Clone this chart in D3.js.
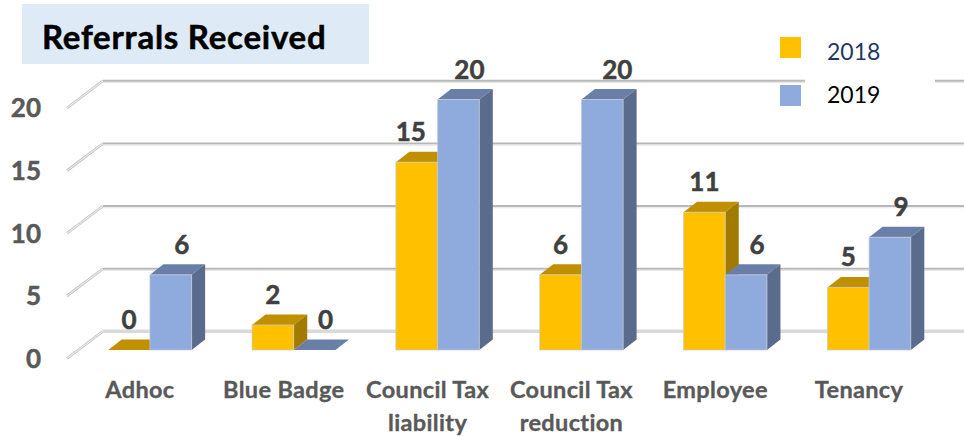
<!DOCTYPE html>
<html>
<head>
<meta charset="utf-8">
<script src="https://cdn.jsdelivr.net/npm/d3@7"></script>
<style>
  html, body { margin: 0; padding: 0; background: #fff; }
  svg { display: block; }
  text { font-family: Lato, "Open Sans", sans-serif; }
</style>
</head>
<body>
<svg id="chart" width="964" height="436"></svg>
<script>
var categories = ["Adhoc", "Blue Badge", "Council Tax liability", "Council Tax reduction", "Employee", "Tenancy"];
var seriesNames = ["2018", "2019"];
var values2018 = [0, 2, 15, 6, 11, 5];
var values2019 = [6, 0, 20, 20, 6, 9];
var yTicks = [0, 5, 10, 15, 20];

var svg = d3.select("#chart");

var x = d3.scaleBand().domain(categories).range([78, 941]).paddingInner(0.42).paddingOuter(0.21);
var xSeries = d3.scaleBand().domain(seriesNames).range([0, x.bandwidth()]);
var y = d3.scaleLinear().domain([0, 20]).range([350, 99.5]);

// 3d offsets of the bars and of the back wall
var barDx = 13.5, barDy = -10.5;
var wallLeft = 67, wallBack = 103, wallRight = 964;

var colors = {
    "2018": { front: "#ffc000", top: "#c09000", side: "#a07b00" },
    "2019": { front: "#8faadc", top: "#6a7fa8", side: "#5b6b8c" }
};

// <--------------- title box --------------->
svg.append("rect")
    .attr("x", 22).attr("y", 4)
    .attr("width", 347).attr("height", 60)
    .attr("fill", "#deebf7");

svg.append("text")
    .attr("x", 42).attr("y", 49)
    .attr("font-size", "33px")
    .attr("font-weight", 700)
    .attr("letter-spacing", "0.75px")
    .attr("stroke", "#000")
    .attr("stroke-width", 0.5)
    .attr("fill", "#000")
    .text("Referrals Received");

// <--------------- walls --------------->
function gridColor(d) { return d === 0 ? "#d9d9d9" : "#b8b8b8"; }

var grid = svg.append("g").selectAll("g")
    .data(yTicks)
    .enter()
    .append("g");

grid.append("path")
    .attr("d", function (d) { return "M" + wallLeft + "," + (y(d) + 8.5) + "L" + wallBack + "," + (y(d) - 18.7); })
    .attr("fill", "none")
    .attr("stroke", "#bdbdbd")
    .attr("stroke-width", 2.6);

grid.append("path")
    .attr("d", function (d) { return "M" + wallLeft + "," + (y(d) + 8.5) + "L" + wallBack + "," + (y(d) - 18.7); })
    .attr("fill", "none")
    .attr("stroke", "#ececec")
    .attr("stroke-width", 1.2);

grid.append("line")
    .attr("x1", wallBack).attr("x2", wallRight)
    .attr("y1", function (d) { return y(d) - 18.7; })
    .attr("y2", function (d) { return y(d) - 18.7; })
    .attr("stroke", gridColor)
    .attr("stroke-width", function (d) { return d === 0 ? 3.5 : 2; });

grid.append("line")
    .attr("x1", wallBack).attr("x2", wallRight)
    .attr("y1", function (d) { return y(d) - 17; })
    .attr("y2", function (d) { return y(d) - 17; })
    .attr("stroke", "#e6e6e6")
    .attr("stroke-width", function (d) { return d === 0 ? 0 : 1.2; });

// <--------------- legend --------------->
svg.append("rect")
    .attr("x", 805).attr("y", 74)
    .attr("width", 130).attr("height", 14)
    .attr("fill", "#fff");

var legend = svg.append("g").selectAll("g")
    .data(seriesNames)
    .enter()
    .append("g");

legend.append("rect")
    .attr("x", 780)
    .attr("y", function (d, i) { return 37 + i * 48; })
    .attr("width", 21).attr("height", 21)
    .attr("fill", function (d) { return colors[d].front; });

legend.append("text")
    .attr("x", 827)
    .attr("y", function (d, i) { return 60 + i * 43; })
    .attr("font-size", "23px")
    .attr("fill", function (d, i) { return i === 0 ? "#1f3864" : "#000"; })
    .text(function (d) { return d; });

// <--------------- bars --------------->
var rows = [];
categories.forEach(function (c, i) {
    rows.push({ category: c, series: "2018", value: values2018[i] });
    rows.push({ category: c, series: "2019", value: values2019[i] });
});

function poly(pts) { return "M" + pts.join("L") + "Z"; }

var bars = svg.append("g").selectAll("g")
    .data(rows)
    .enter()
    .append("g");

function left(d) { return x(d.category) + xSeries(d.series); }
function right(d) { return left(d) + xSeries.bandwidth(); }

// top face
bars.append("path")
    .attr("d", function (d) {
        var t = y(d.value);
        return poly([[left(d), t], [right(d), t], [right(d) + barDx, t + barDy], [left(d) + barDx, t + barDy]]);
    })
    .attr("fill", function (d) { return colors[d.series].top; });

// side face
bars.append("path")
    .attr("d", function (d) {
        var t = y(d.value), b = y(0);
        return poly([[right(d), t], [right(d) + barDx, t + barDy], [right(d) + barDx, b + barDy], [right(d), b]]);
    })
    .attr("fill", function (d) { return colors[d.series].side; });

// front face
bars.append("rect")
    .attr("x", left)
    .attr("y", function (d) { return y(d.value); })
    .attr("width", xSeries.bandwidth())
    .attr("height", function (d) { return y(0) - y(d.value); })
    .attr("fill", function (d) { return colors[d.series].front; })
    .attr("stroke", "#c8ccd4")
    .attr("stroke-opacity", 0.7)
    .attr("stroke-width", function (d) { return d.value === 0 ? 0 : 1; });

// value labels sit a bit off the bar centre in the original
function labelShift(d) {
    if (d.category === "Council Tax liability" && d.series === "2018") return -6;
    if (d.category === "Council Tax reduction" && d.series === "2019") return 15;
    return d.series === "2019" ? 11 : 0;
}

bars.append("text")
    .attr("x", function (d) { return left(d) + xSeries.bandwidth() / 2 + labelShift(d); })
    .attr("y", function (d) { return y(d.value) - 21; })
    .attr("text-anchor", "middle")
    .attr("font-size", "26px")
    .attr("font-weight", 700)
    .attr("stroke", "#404040")
    .attr("stroke-width", 0.5)
    .attr("fill", "#404040")
    .text(function (d) { return d.value; });

// <--------------- axes --------------->
var yAxis = svg.append("g")
    .attr("transform", "translate(41,9)")
    .call(d3.axisLeft(y).tickValues(yTicks).tickSize(0).tickPadding(0));
yAxis.select(".domain").remove();
yAxis.selectAll("text")
    .style("font-family", "Lato, sans-serif")
    .style("font-size", "26px")
    .style("font-weight", 700)
    .attr("stroke", "#595959")
    .attr("stroke-width", 0.5)
    .attr("fill", "#595959");

var xAxis = svg.append("g")
    .attr("transform", "translate(-10,380)")
    .call(d3.axisBottom(x).tickSize(0).tickPadding(0));
xAxis.select(".domain").remove();
xAxis.selectAll("text")
    .style("font-family", "Lato, sans-serif")
    .style("font-size", "23.5px")
    .style("font-weight", 700)
    .style("letter-spacing", "0.35px")
    .attr("stroke", "#595959")
    .attr("stroke-width", 0.35)
    .attr("fill", "#595959")
    .each(function (d) {
        var el = d3.select(this);
        var parts = d.indexOf("Council Tax ") === 0 ? ["Council Tax", d.slice(12)] : [d];
        el.text(null);
        parts.forEach(function (p, i) {
            el.append("tspan").attr("x", 0).attr("y", 18 + i * 33).attr("dy", 0).text(p);
        });
    });
</script>
</body>
</html>
